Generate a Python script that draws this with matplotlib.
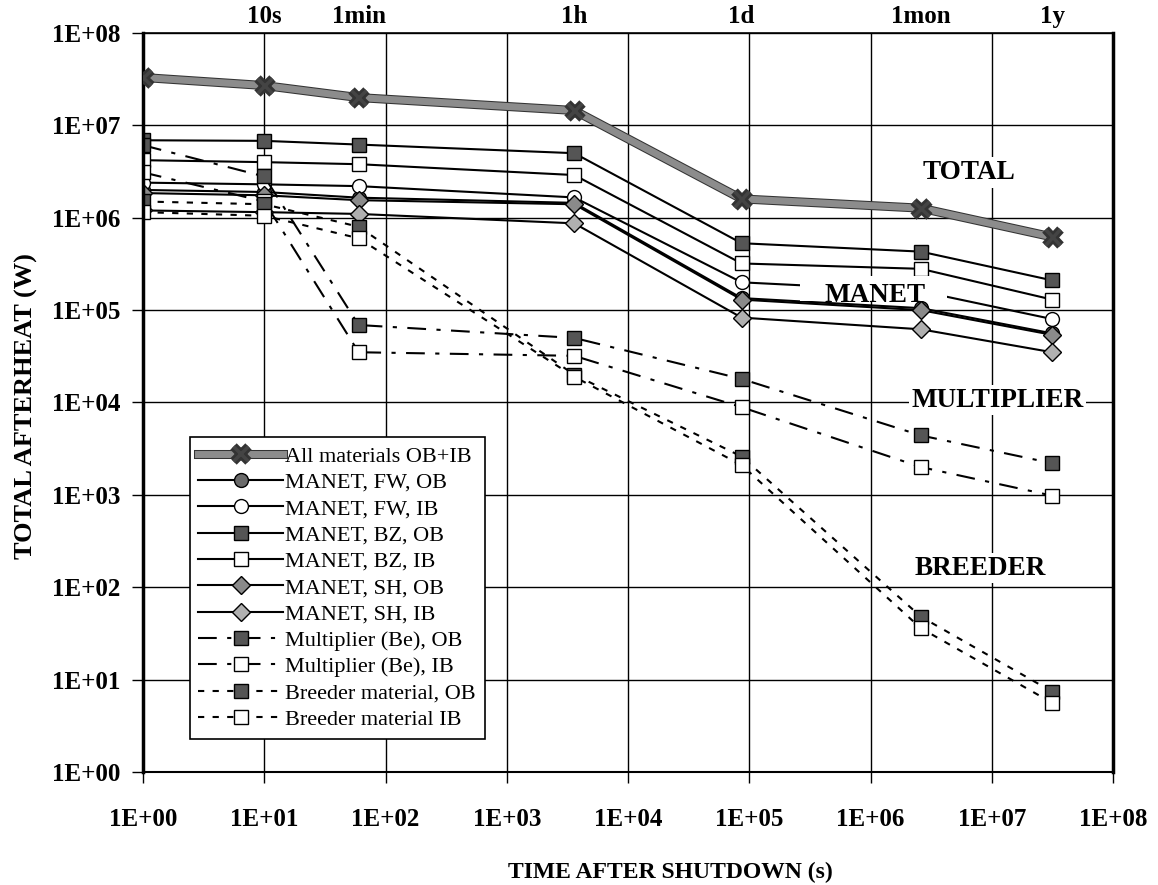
import numpy as np
import matplotlib.pyplot as plt
import matplotlib.patheffects as pe
from matplotlib.patches import Rectangle
from matplotlib.ticker import FixedLocator, FixedFormatter, NullLocator

plt.rcParams['font.family'] = ['Liberation Serif', 'DejaVu Serif']

# time points (s): 1 s, 10 s, 1 min, 1 h, 1 d, 1 month, 1 year
t = [1, 10, 60, 3600, 86400, 2.6e6, 3.15e7]

total = [3.3e7, 2.7e7, 2.0e7, 1.45e7, 1.6e6, 1.27e6, 6.2e5]
manet_fw_ob = [2.0e6, 1.9e6, 1.65e6, 1.45e6, 1.35e5, 1.05e5, 5.6e4]
manet_fw_ib = [2.4e6, 2.3e6, 2.2e6, 1.66e6, 2.0e5, 1.6e5, 8.0e4]
manet_bz_ob = [6.9e6, 6.8e6, 6.2e6, 5.0e6, 5.3e5, 4.3e5, 2.1e5]
manet_bz_ib = [4.2e6, 4.0e6, 3.8e6, 2.9e6, 3.2e5, 2.8e5, 1.3e5]
manet_sh_ob = [1.85e6, 1.75e6, 1.55e6, 1.4e6, 1.3e5, 1.0e5, 5.4e4]
manet_sh_ib = [1.2e6, 1.15e6, 1.1e6, 8.7e5, 8.3e4, 6.2e4, 3.5e4]
mult_ob = [6.1e6, 2.8e6, 6.9e4, 5.0e4, 1.8e4, 4.4e3, 2.2e3]
mult_ib = [3.1e6, 1.5e6, 3.5e4, 3.2e4, 8.9e3, 2.0e3, 980]
breed_ob = [1.5e6, 1.4e6, 8.0e5, 2.0e4, 2.6e3, 48, 7.4]
breed_ib = [1.15e6, 1.05e6, 6.0e5, 1.9e4, 2.1e3, 36, 5.6]

decades = [1, 1e1, 1e2, 1e3, 1e4, 1e5, 1e6, 1e7, 1e8]
tick_labels = ['1E+00', '1E+01', '1E+02', '1E+03', '1E+04', '1E+05', '1E+06', '1E+07', '1E+08']
top_times = [10, 60, 3600, 86400, 2.6e6, 3.15e7]
top_labels = ['10s', '1min', '1h', '1d', '1mon', '1y']

fig = plt.figure(figsize=(11.58, 8.85), dpi=100)
ax = fig.add_axes([0.1235, 0.1277, 0.8377, 0.835])
ax.set_xscale('log')
ax.set_yscale('log')
ax.set_xlim(1, 1e8)
ax.set_ylim(1, 1e8)

dark = '#555555'
mid = '#8a8a8a'
light = '#b0b0b0'

ax.plot(t, total, color='#8c8c8c', lw=5, marker='x', ms=11, mew=2.5, mec='#444444',
        path_effects=[pe.Stroke(linewidth=6.5, foreground='#333333'), pe.Normal()],
        label='All materials OB+IB', zorder=5)
ax.plot(t, manet_fw_ob, color='k', lw=1.5, marker='o', ms=10, mfc='#6a6a6a', mec='k', label='MANET, FW, OB')
ax.plot(t, manet_fw_ib, color='k', lw=1.5, marker='o', ms=10, mfc='white', mec='k', label='MANET, FW, IB')
ax.plot(t, manet_bz_ob, color='k', lw=1.5, marker='s', ms=10, mfc=dark, mec='k', label='MANET, BZ, OB')
ax.plot(t, manet_bz_ib, color='k', lw=1.5, marker='s', ms=10, mfc='white', mec='k', label='MANET, BZ, IB')
ax.plot(t, manet_sh_ob, color='k', lw=1.5, marker='D', ms=9, mfc=mid, mec='k', label='MANET, SH, OB')
ax.plot(t, manet_sh_ib, color='k', lw=1.5, marker='D', ms=9, mfc=light, mec='k', label='MANET, SH, IB')
ax.plot(t, mult_ob, color='k', lw=1.5, ls=(0, (9, 5, 2, 5)), marker='s', ms=10, mfc=dark, mec='k',
        label='Multiplier (Be), OB')
ax.plot(t, mult_ib, color='k', lw=1.5, ls=(0, (9, 5, 2, 5)), marker='s', ms=10, mfc='white', mec='k',
        label='Multiplier (Be), IB')
ax.plot(t, breed_ob, color='k', lw=1.5, ls=(0, (3, 4)), marker='s', ms=10, mfc=dark, mec='k',
        label='Breeder material, OB')
ax.plot(t, breed_ib, color='k', lw=1.5, ls=(0, (3, 4)), marker='s', ms=10, mfc='white', mec='k',
        label='Breeder material IB')

# axes, ticks and grid
ax.xaxis.set_major_locator(FixedLocator(decades))
ax.xaxis.set_major_formatter(FixedFormatter(tick_labels))
ax.yaxis.set_major_locator(FixedLocator(decades))
ax.yaxis.set_major_formatter(FixedFormatter(tick_labels))
ax.xaxis.set_minor_locator(NullLocator())
ax.yaxis.set_minor_locator(NullLocator())
ax.grid(True, which='major', color='k', lw=1.0)
ax.set_axisbelow(True)
ax.tick_params(axis='x', direction='out', length=8, width=1, pad=18, labelsize=18)
ax.tick_params(axis='y', direction='out', length=8, width=1, pad=8, labelsize=18)
for lab in ax.get_xticklabels() + ax.get_yticklabels():
    lab.set_fontweight('bold')
ax.spines['left'].set_linewidth(2.5)
ax.spines['right'].set_linewidth(2.5)
ax.spines['top'].set_linewidth(1.2)
ax.spines['bottom'].set_linewidth(1.5)

# time markers above the plot
for x, s in zip(top_times, top_labels):
    ax.text(x, 1.5e8, s, ha='center', va='center', fontsize=18, fontweight='bold', clip_on=False)

# white text box behind the MANET label
ax.add_patch(Rectangle((0.677, 0.638), 0.152, 0.033, transform=ax.transAxes,
                       facecolor='white', edgecolor='none', zorder=4))

# group labels
box = dict(facecolor='white', edgecolor='none', pad=2)
ax.text(0.851, 0.811, 'TOTAL', transform=ax.transAxes, ha='center', va='center',
        fontsize=19.5, fontweight='bold', bbox=box, zorder=6)
ax.text(0.755, 0.645, 'MANET', transform=ax.transAxes, ha='center', va='center',
        fontsize=19.5, fontweight='bold', zorder=6)
ax.text(0.881, 0.503, 'MULTIPLIER', transform=ax.transAxes, ha='center', va='center',
        fontsize=19.5, fontweight='bold', bbox=box, zorder=6)
ax.text(0.863, 0.276, 'BREEDER', transform=ax.transAxes, ha='center', va='center',
        fontsize=19.5, fontweight='bold', bbox=box, zorder=6)

leg = ax.legend(loc='lower left', bbox_to_anchor=(0.048, 0.045), fontsize=16, numpoints=1,
                handlelength=3.8, handletextpad=0.1, labelspacing=0.26, borderpad=0.4,
                borderaxespad=0, fancybox=False, framealpha=1, edgecolor='k')
leg.get_frame().set_linewidth(1.2)
leg.set_zorder(7)

fig.text(670 / 1158, 1 - 872 / 885, 'TIME AFTER SHUTDOWN (s)', ha='center', va='center',
         fontsize=17, fontweight='bold')
fig.text(26 / 1158, 1 - 406 / 885, 'TOTAL AFTERHEAT (W)', ha='center', va='center',
         rotation=90, fontsize=19, fontweight='bold')

fig.savefig('out.png', dpi=100)
